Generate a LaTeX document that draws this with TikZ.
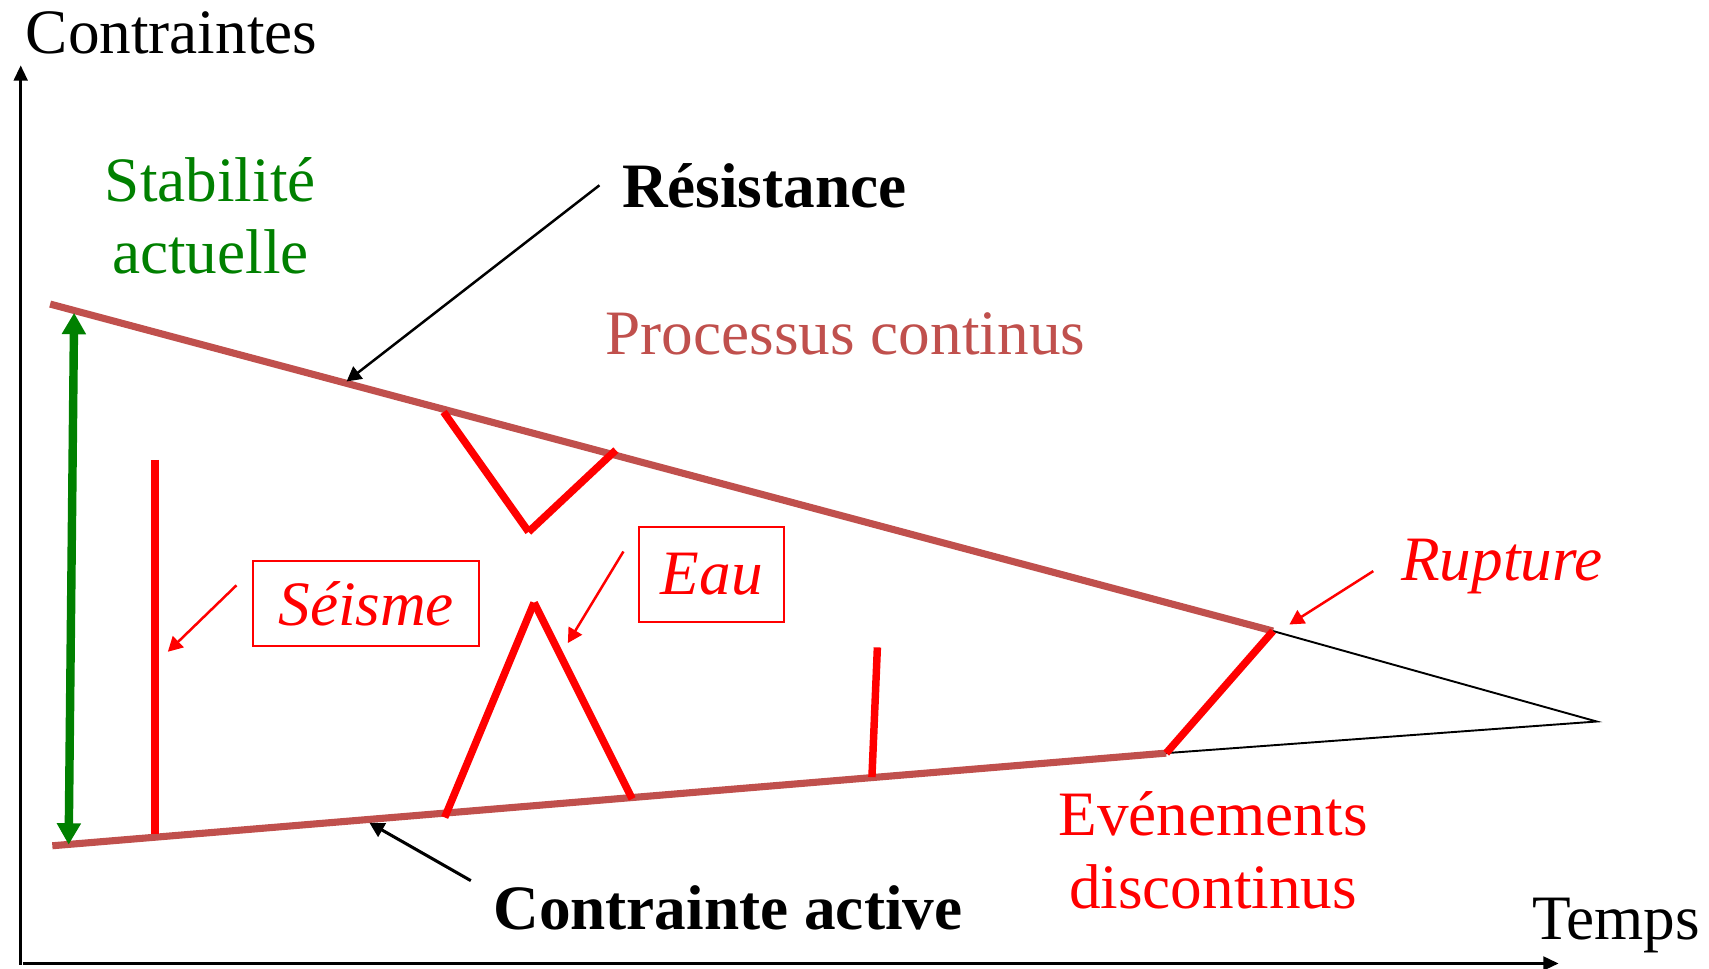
\documentclass[tikz,border=0pt]{standalone}
\usepackage{fontspec}
\setmainfont{Liberation Serif}
\usetikzlibrary{arrows.meta, positioning}
\definecolor{brique}{HTML}{C0504D}
\definecolor{vert}{HTML}{008000}
\tikzset{
  grandtexte/.style={
    font=\fontsize{16.5}{19}\selectfont, inner sep=0pt
  },
  axe/.style={
    -{Triangle[length=4pt, width=3.6pt]}, line width=0.7pt
  },
  borne/.style={
    line width=1.85pt, color=brique
  },
  prolong/.style={
    line width=0.5pt, color=black
  },
  evenement/.style={
    line width=1.95pt, color=red, line cap=butt
  },
  fleche/.style={
    -{Triangle[length=3.8pt, width=4pt]}, line width=0.65pt
  },
  cadre/.style={
    draw=red, line width=0.55pt, inner sep=0pt, text=red,
    font=\fontsize{16.5}{19}\selectfont\itshape
  },
}

\begin{document}
\begin{tikzpicture}[x=0.01cm, y=-0.01cm]
  \useasboundingbox (0,0) rectangle (1568,889);

  % axes
  \coordinate (origine) at (19,885);
  \coordinate (ytop) at (19,60);
  \coordinate (xend) at (1430,884);
  \draw[axe] (origine) -- (ytop);
  \draw[axe] (21,884) -- (xend);
  \node[grandtexte, anchor=base west] (contraintes) at (23,49) {Contraintes};
  \node[grandtexte, anchor=base west] (temps) at (1405,862) {Temps};

  % enveloppe : resistance et contrainte active
  \coordinate (resA) at (46,279);
  \coordinate (resB) at (1168,579);
  \coordinate (actA) at (48,776);
  \coordinate (actB) at (1070,691);
  \coordinate (pointe) at (1465,662);
  \draw[borne] (resA) -- (resB);
  \draw[borne] (actA) -- (actB);
  \draw[prolong] (resB) -- (pointe) -- (actB);

  % stabilite actuelle
  \coordinate (stabH) at (68,287);
  \coordinate (stabB) at (63,775);
  \draw[{Triangle[length=5.6pt, width=6pt]}-{Triangle[length=5.6pt, width=6pt]},
    line width=2.2pt, vert] (stabH) -- (stabB);
  \node[grandtexte, text=vert, align=center] (stabilite) at (193,198)
    {Stabilit\'e\\actuelle};

  % Resistance
  \node[grandtexte, anchor=base west, font=\fontsize{16.5}{19}\selectfont\bfseries]
    (resistance) at (570,190) {R\'esistance};
  \coordinate (resDep) at (550,170);
  \coordinate (resFin) at (318,350);
  \draw[fleche] (resDep) -- (resFin);
  \node[grandtexte, anchor=base west, text=brique] (continus) at (555,325)
    {Processus continus};

  % Contrainte active
  \node[grandtexte, anchor=base west, font=\fontsize{16.5}{19}\selectfont\bfseries]
    (active) at (452,853) {Contrainte active};
  \coordinate (actDep) at (432,808);
  \coordinate (actFin) at (339,755);
  \draw[fleche, line width=0.8pt] (actDep) -- (actFin);

  % Seisme
  \coordinate (seisH) at (142,422);
  \coordinate (seisB) at (142,765);
  \draw[evenement] (seisH) -- (seisB);
  \node[cadre, minimum width=2.07cm, minimum height=0.78cm] (seisme) at (336,554)
    {S\'eisme};
  \coordinate (seisDep) at (217,537);
  \coordinate (seisFin) at (154,598);
  \draw[fleche, red] (seisDep) -- (seisFin);

  % creux sur la resistance
  \coordinate (vA) at (407,378);
  \coordinate (vB) at (485,488);
  \coordinate (vC) at (565,413);
  \draw[evenement] (vA) -- (vB);
  \draw[evenement] (vB) -- (vC);

  % Eau
  \coordinate (picA) at (408,750);
  \coordinate (picB) at (490,553);
  \coordinate (picC) at (580,733);
  \draw[evenement] (picA) -- (picB);
  \draw[evenement] (picB) -- (picC);
  \node[cadre, minimum width=1.33cm, minimum height=0.87cm] (eau) at (653,527)
    {Eau};
  \coordinate (eauDep) at (572,506);
  \coordinate (eauFin) at (521,590);
  \draw[fleche, red] (eauDep) -- (eauFin);

  % petit evenement
  \coordinate (petitH) at (805,594);
  \coordinate (petitB) at (800,713);
  \draw[evenement] (petitH) -- (petitB);

  % Rupture
  \draw[evenement] (actB) -- (resB);
  \node[grandtexte, anchor=base west, text=red, font=\fontsize{16.5}{19}\selectfont\itshape]
    (rupture) at (1285,533) {Rupture};
  \coordinate (rupDep) at (1260,524);
  \coordinate (rupFin) at (1183,573);
  \draw[fleche, red] (rupDep) -- (rupFin);

  % evenements discontinus
  \node[grandtexte, text=red, align=center] (discontinus) at (1113,780)
    {Ev\'enements\\discontinus};
\end{tikzpicture}
\end{document}
